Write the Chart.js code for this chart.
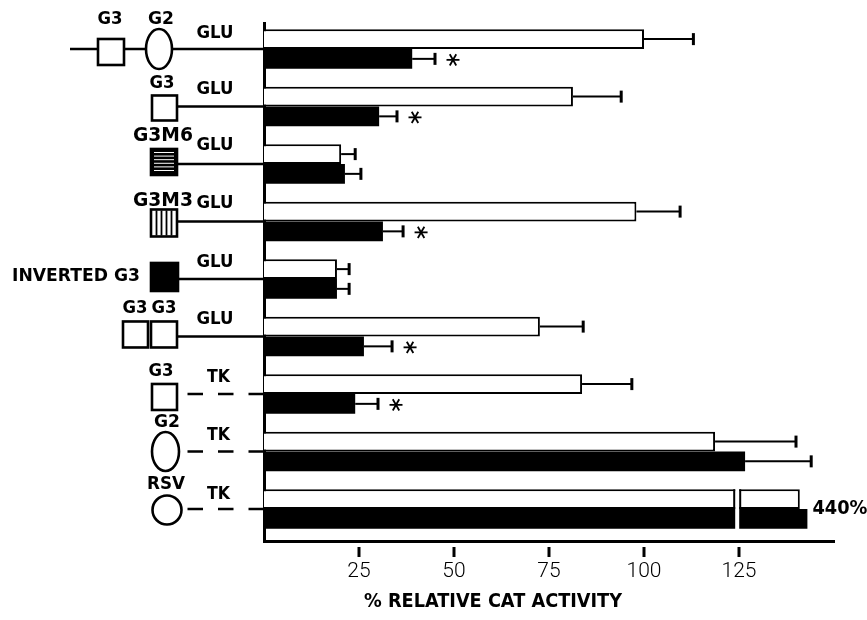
<!DOCTYPE html>
<html><head><meta charset="utf-8">
<script src="https://cdn.jsdelivr.net/npm/chart.js@4"></script>
<style>html,body{margin:0;padding:0;background:#fff}</style>
</head><body>
<canvas id="c" width="867" height="620"></canvas>
<script>
// ---- data ----
const categories = ["G3-G2-GLU", "G3-GLU", "G3M6-GLU", "G3M3-GLU", "INVERTED G3-GLU", "G3 G3-GLU", "G3-TK", "G2-TK", "RSV-TK"];
const whiteValues = [100, 81.3, 20.3, 98, 19.2, 72.6, 83.7, 118.7, 141];
const whiteErrors = [113, 94, 24, 109.5, 22.4, 84, 96.8, 140, null];
const blackValues = [39, 30.3, 21.3, 31.3, 19.2, 26.3, 24, 126.6, 143];
const blackErrors = [45, 35, 25.5, 36.6, 22.4, 33.7, 30, 144, null];
const significant = [true, true, false, true, false, true, true, false, false];
const xTicks = [25, 50, 75, 100, 125];
const axisTitle = "% RELATIVE CAT ACTIVITY";
const brokenLabel = "440%";
const brokenRow = 8;
const breakValue = 124;

const BOLD = '"DejaVu Sans", sans-serif';

function fitText(ctx, text, x, y, w, size, align) {
  ctx.save();
  ctx.font = 'bold ' + size + 'px ' + BOLD;
  ctx.textBaseline = 'middle';
  ctx.textAlign = 'left';
  ctx.fillStyle = '#000';
  const m = ctx.measureText(text).width;
  const s = w / m;
  const left = align === 'right' ? x - w : (align === 'left' ? x : x - w / 2);
  ctx.translate(left, y);
  ctx.scale(s, 1);
  ctx.fillText(text, 0, 0);
  ctx.restore();
}

function drawAsterisk(ctx, x, y, r) {
  ctx.save();
  ctx.strokeStyle = '#000';
  ctx.lineWidth = 1.8;
  for (let k = 0; k < 3; k++) {
    const a = k * Math.PI / 3;
    ctx.beginPath();
    ctx.moveTo(x - r * Math.cos(a), y - r * Math.sin(a));
    ctx.lineTo(x + r * Math.cos(a), y + r * Math.sin(a));
    ctx.stroke();
  }
  ctx.restore();
}

const errorBars = {
  id: 'errorBars',
  afterDatasetsDraw(chart) {
    const ctx = chart.ctx, xs = chart.scales.x;
    // axis break on the truncated row
    const wBar = chart.getDatasetMeta(0).data[brokenRow];
    const bBar = chart.getDatasetMeta(1).data[brokenRow];
    const x1 = xs.getPixelForValue(breakValue), x2 = x1 + 4;
    const top = wBar.y - wBar.height / 2 - 1, bot = bBar.y + bBar.height / 2 + 1;
    ctx.save();
    ctx.fillStyle = '#fff';
    ctx.fillRect(x1, top, x2 - x1, bot - top);
    ctx.strokeStyle = '#000'; ctx.lineWidth = 2;
    ctx.beginPath();
    ctx.moveTo(x1 - 1, wBar.y - wBar.height / 2); ctx.lineTo(x1 - 1, wBar.y + wBar.height / 2);
    ctx.moveTo(x2 + 1, wBar.y - wBar.height / 2); ctx.lineTo(x2 + 1, wBar.y + wBar.height / 2);
    ctx.stroke();
    ctx.restore();
    const endX = Math.max(wBar.x, bBar.x);
    fitText(ctx, brokenLabel, endX + 5, (wBar.y + bBar.y) / 2, 55, 20, 'left');

    chart.data.datasets.forEach((ds, di) => {
      const meta = chart.getDatasetMeta(di);
      meta.data.forEach((bar, i) => {
        const e = ds.errors[i];
        if (e == null) return;
        const xe = xs.getPixelForValue(e);
        ctx.save();
        ctx.strokeStyle = '#000';
        ctx.lineWidth = 2;
        ctx.beginPath(); ctx.moveTo(bar.x, bar.y); ctx.lineTo(xe, bar.y); ctx.stroke();
        ctx.lineWidth = 3;
        ctx.beginPath(); ctx.moveTo(xe, bar.y - 6); ctx.lineTo(xe, bar.y + 6); ctx.stroke();
        ctx.restore();
        if (di === 1 && significant[i]) drawAsterisk(ctx, xe + 18, bar.y + 1, 6.5);
      });
    });
  }
};

function square(ctx, x1, x2, y1, y2, fill) {
  ctx.fillStyle = fill || '#fff';
  ctx.fillRect(x1, y1, x2 - x1, y2 - y1);
  ctx.strokeRect(x1, y1, x2 - x1, y2 - y1);
}
function ellipse(ctx, cx, cy, rx, ry) {
  ctx.beginPath();
  ctx.ellipse(cx, cy, rx, ry, 0, 0, Math.PI * 2);
  ctx.fillStyle = '#fff';
  ctx.fill();
  ctx.stroke();
}
function solidLine(ctx, x1, x2, y) {
  ctx.beginPath(); ctx.moveTo(x1, y); ctx.lineTo(x2, y); ctx.stroke();
}
function dashedLine(ctx, x1, x2, y) {
  ctx.save();
  ctx.setLineDash([15.5, 15]);
  ctx.beginPath(); ctx.moveTo(x2, y); ctx.lineTo(x1, y); ctx.stroke();
  ctx.restore();
}

const constructs = {
  id: 'constructs',
  afterDraw(chart) {
    const ctx = chart.ctx, ys = chart.scales.y;
    const ax = chart.chartArea.left;
    ctx.save();
    ctx.strokeStyle = '#000';
    categories.forEach((c, i) => {
      const cy = ys.getPixelForValue(i);
      ctx.lineWidth = 2.6;
      switch (i) {
        case 0:
          solidLine(ctx, 70, ax, cy);
          square(ctx, 98, 124, cy - 10, cy + 16);
          ellipse(ctx, 159, cy, 13, 20);
          fitText(ctx, 'G3', 110, cy - 30, 25, 18);
          fitText(ctx, 'G2', 161, cy - 30, 26, 18);
          fitText(ctx, 'GLU', 215, cy - 16, 37, 18);
          break;
        case 1:
          solidLine(ctx, 177, ax, cy);
          square(ctx, 152, 177, cy - 11, cy + 14);
          fitText(ctx, 'G3', 162, cy - 23, 25, 18);
          fitText(ctx, 'GLU', 215, cy - 17, 37, 18);
          break;
        case 2: {
          solidLine(ctx, 177, ax, cy);
          square(ctx, 151, 177, cy - 15, cy + 11, '#000');
          ctx.save(); ctx.strokeStyle = '#fff'; ctx.lineWidth = 1;
          for (let yy = cy - 11.5; yy < cy + 9; yy += 3.6) {
            ctx.beginPath(); ctx.moveTo(154, yy); ctx.lineTo(174, yy); ctx.stroke();
          }
          ctx.restore();
          fitText(ctx, 'G3M6', 163, cy - 28, 60, 20);
          fitText(ctx, 'GLU', 215, cy - 19, 37, 18);
          break;
        }
        case 3: {
          solidLine(ctx, 177, ax, cy);
          square(ctx, 151, 177, cy - 12, cy + 15);
          ctx.save(); ctx.lineWidth = 1.8;
          [156.5, 161.5, 166.5, 171.5].forEach(xx => {
            ctx.beginPath(); ctx.moveTo(xx, cy - 11); ctx.lineTo(xx, cy + 14); ctx.stroke();
          });
          ctx.restore();
          fitText(ctx, 'G3M3', 163, cy - 21, 60, 20);
          fitText(ctx, 'GLU', 215, cy - 18, 37, 18);
          break;
        }
        case 4:
          solidLine(ctx, 178, ax, cy);
          square(ctx, 151, 178, cy - 16, cy + 12, '#000');
          fitText(ctx, 'INVERTED G3', 140, cy - 3, 128, 18, 'right');
          fitText(ctx, 'GLU', 215, cy - 17, 37, 18);
          break;
        case 5:
          solidLine(ctx, 177, ax, cy);
          square(ctx, 123, 148, cy - 15, cy + 11);
          square(ctx, 151, 177, cy - 15, cy + 11);
          fitText(ctx, 'G3', 135, cy - 28, 25, 18);
          fitText(ctx, 'G3', 164, cy - 28, 25, 18);
          fitText(ctx, 'GLU', 215, cy - 17, 37, 18);
          break;
        case 6:
          dashedLine(ctx, 187, ax, cy);
          square(ctx, 152, 177, cy - 10, cy + 16);
          fitText(ctx, 'G3', 161, cy - 23, 25, 18);
          fitText(ctx, 'TK', 218.5, cy - 17, 23, 18);
          break;
        case 7:
          dashedLine(ctx, 187, ax, cy);
          ellipse(ctx, 165.5, cy, 13.5, 19.5);
          fitText(ctx, 'G2', 167, cy - 29, 26, 18);
          fitText(ctx, 'TK', 218.5, cy - 16, 23, 18);
          break;
        case 8:
          dashedLine(ctx, 187, ax, cy);
          ellipse(ctx, 167, cy + 1, 14.5, 14.5);
          fitText(ctx, 'RSV', 166, cy - 25, 38, 18);
          fitText(ctx, 'TK', 218.5, cy - 15, 23, 18);
          break;
      }
    });
    ctx.restore();

    // x tick marks (detached from the axis line) and axis title
    const xs = chart.scales.x, b = chart.chartArea.bottom;
    ctx.save();
    ctx.strokeStyle = '#000'; ctx.lineWidth = 3;
    xTicks.forEach(v => {
      const x = xs.getPixelForValue(v);
      ctx.beginPath(); ctx.moveTo(x, b + 6); ctx.lineTo(x, b + 16); ctx.stroke();
    });
    ctx.restore();
    fitText(ctx, axisTitle, 493, 602, 258, 20);
  }
};

new Chart(document.getElementById('c'), {
  type: 'bar',
  data: {
    labels: categories,
    datasets: [
      { label: 'white', data: whiteValues.map((v, i) => ({ x: v, y: i })), errors: whiteErrors,
        backgroundColor: '#fff', borderColor: '#000', borderWidth: 2, borderSkipped: 'start',
        categoryPercentage: 0.687, barPercentage: 1 },
      { label: 'black', data: blackValues.map((v, i) => ({ x: v, y: i })), errors: blackErrors,
        backgroundColor: '#000', borderColor: '#000', borderWidth: 0,
        categoryPercentage: 0.687, barPercentage: 1 }
    ]
  },
  options: {
    indexAxis: 'y',
    responsive: false,
    animation: false,
    layout: { padding: { left: 264, right: 33, top: 23, bottom: 0 } },
    scales: {
      x: {
        type: 'linear', min: 0, max: 150, position: 'bottom', z: 1,
        grid: { display: false, drawTicks: false },
        border: { display: true, width: 3, color: '#000' },
        afterBuildTicks: s => { s.ticks = xTicks.map(v => ({ value: v })); },
        ticks: { color: '#000', padding: 18, font: { family: 'Roboto', size: 21, weight: '300' } },
        afterFit: s => { s.height = 79; }
      },
      y: {
        type: 'linear', reverse: true, min: -0.452, max: 8.557, offset: false, z: 1,
        grid: { display: false, drawTicks: false, offset: false },
        border: { display: true, width: 3, color: '#000' },
        afterBuildTicks: s => { s.ticks = categories.map((c, i) => ({ value: i })); },
        ticks: { display: false },
        afterFit: s => { s.width = 0; }
      }
    },
    plugins: { legend: { display: false }, tooltip: { enabled: false } }
  },
  plugins: [errorBars, constructs]
});
</script>
</body></html>
